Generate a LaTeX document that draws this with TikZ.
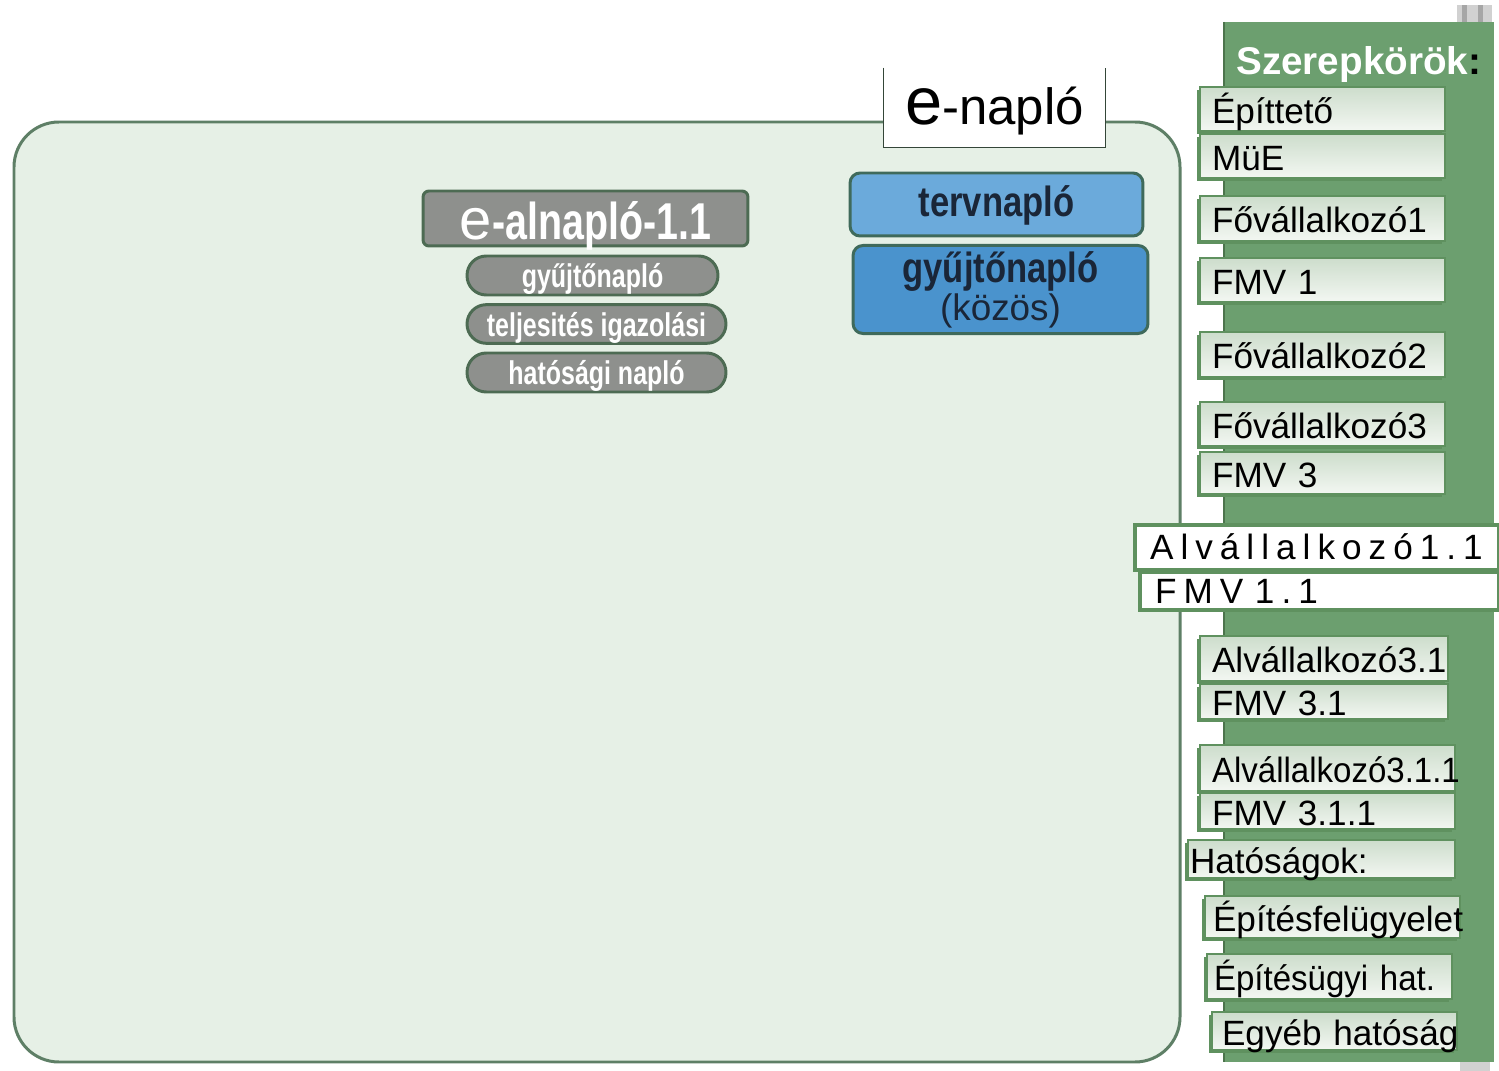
\documentclass[tikz,border=0pt]{standalone}
\usepackage{fontspec}
\setmainfont{Liberation Sans}
\newfontfamily\narrowfont[FakeStretch=0.76]{Liberation Sans}
\newfontfamily\tightfont[FakeStretch=0.82]{Liberation Sans}
\newfontfamily\rolenarrow[FakeStretch=0.94]{Liberation Sans}
\newfontfamily\widefont[LetterSpace=20]{Liberation Sans}
\usetikzlibrary{positioning,fit,calc,shadows}

\definecolor{frameline}{HTML}{5E7F66}
\definecolor{framefill}{HTML}{E6F0E6}
\definecolor{panelgreen}{HTML}{6C9F6F}
\definecolor{rolerim}{HTML}{5F915F}
\definecolor{roletop}{HTML}{CDDDCC}
\definecolor{rolebot}{HTML}{F3F7F2}
\definecolor{pillgray}{HTML}{8E908D}
\definecolor{pillrim}{HTML}{4D6B53}
\definecolor{planblue}{HTML}{6BAADB}
\definecolor{commonblue}{HTML}{4A93CD}
\definecolor{bluerim}{HTML}{3F6A5B}
\definecolor{navy}{HTML}{1A2638}

\begin{document}
\begin{tikzpicture}[x=0.02cm, y=-0.02cm,
    role/.style={draw=rolerim, line width=0.8pt, top color=roletop, bottom color=rolebot,
      drop shadow={shadow xshift=-1.8pt, shadow yshift=-1.6pt, fill=rolerim, opacity=1},
      inner xsep=0.24cm, inner ysep=0pt, align=left, text height=16.4pt, text depth=0pt,
      font=\fontsize{20}{22}\selectfont},
    subrole/.style={draw=rolerim, line width=2pt, fill=white, inner xsep=0.3cm, inner ysep=0pt,
      align=left, text height=13.8pt, text depth=0pt, font=\widefont\fontsize{20}{22}\selectfont},
    pill/.style={draw=pillrim, line width=1.7pt, fill=pillgray, rounded corners=0.385cm, inner ysep=0pt,
      text=white, text height=18pt, text depth=4pt, font=\narrowfont\bfseries\fontsize{18.7}{20}\selectfont},
    bluebox/.style={draw=bluerim, line width=1.7pt, rounded corners=0.2cm, text=navy,
      align=center, font=\tightfont\bfseries\fontsize{24}{21.5}\selectfont}]

  \useasboundingbox (0,0) rectangle (1499,1071);
  \fill[white] (0,0) rectangle (1499,1071);

  % main frame
  \draw[frameline, fill=framefill, line width=1.7pt, rounded corners=0.9cm] (14,122) rectangle (1180,1062);

  \node[fill=white, minimum width=4.42cm, minimum height=1.58cm, inner sep=0pt] (enaplo) at (994.5,107.5)
      {\raisebox{-0.35cm}[0pt][0pt]{{\fontsize{38}{38}\selectfont e}{\fontsize{29}{29}\selectfont -napló}}};
  \draw[black!45!frameline, line width=0.8pt] (enaplo.north west) |- (enaplo.south east) -- (enaplo.north east);

  % sub-diary
  \node[draw=pillrim, line width=1.7pt, fill=pillgray, rounded corners=0.12cm, text=white,
      minimum width=6.5cm, minimum height=1.1cm, inner sep=0pt] (alnaplo) at (585.5,218.5)
      {\raisebox{-0.43cm}[0pt][0pt]{{\fontsize{33}{33}\selectfont e}{\narrowfont\bfseries\fontsize{29.5}{30}\selectfont -alnapló-1.1}}};
  \node[pill, minimum width=5.02cm, minimum height=0.78cm] (gyujto) at (592.5,275.5) {gyűjtőnapló};
  \node[pill, minimum width=5.18cm, minimum height=0.76cm] (teljes) at (596.5,324) {teljesités igazolási};
  \node[pill, minimum width=5.18cm, minimum height=0.78cm] (hatnaplo) at (596.5,372.5) {hatósági napló};

  % common diaries
  \node[bluebox, fill=planblue, minimum width=5.86cm, minimum height=1.26cm, text height=18pt, text depth=4pt]
      (terv) at (996.5,204.5) {tervnapló};
  \node[bluebox, fill=commonblue, minimum width=5.9cm, minimum height=1.62cm] (kozos) at (1000.5,289.5)
      {gyűjtőnapló\\{\rmfamily\mdseries\fontsize{21}{21.5}\selectfont (közös)}};

  % roles
  \fill[panelgreen] (1224,22) rectangle (1494,1062);
  \draw[rolerim!80!black, line width=1pt] (1224,22) -- (1224,1062);
  \fill[black!18] (1457,5) rectangle (1492,22);
  \fill[black!35] (1462,5) rectangle (1467,22);
  \fill[black!35] (1478,5) rectangle (1483,22);
  \fill[black!18] (1460,1062) rectangle (1490,1071);

  \node[anchor=base west, inner sep=0pt, font=\bfseries\fontsize{22}{22}\selectfont] (szerep) at (1236,75)
      {\textcolor{white}{Szerepkörök}:};

  \node[role, text width=4.42cm, minimum height=0.88cm] (epitteto) at (1322.5,109) {Építtető};
  \node[role, text width=4.42cm, minimum height=0.88cm] (mue) at (1322.5,156) {MüE};
  \node[role, text width=4.42cm, minimum height=0.9cm] (fov1) at (1322.5,218.5) {Fővállalkozó1};
  \node[role, text width=4.42cm, minimum height=0.88cm] (fmv1) at (1322.5,280) {FMV 1};
  \node[role, text width=4.42cm, minimum height=0.9cm] (fov2) at (1322.5,354.5) {Fővállalkozó2};
  \node[role, text width=4.42cm, minimum height=0.88cm] (fov3) at (1322.5,424) {Fővállalkozó3};
  \node[role, text width=4.42cm, minimum height=0.84cm] (fmv3) at (1322.5,473) {FMV 3};

  \node[subrole, text width=6.68cm, minimum height=0.9cm] (alv11) at (1317,547.5) {Alvállalkozó1.1};
  \node[subrole, text width=6.58cm, minimum height=0.76cm] (fmv11) at (1319.5,591) {FMV 1.1};

  \node[role, text width=4.48cm, minimum height=0.9cm] (alv31) at (1324,658.5) {Alvállalkozó3.1};
  \node[role, text width=4.48cm, minimum height=0.7cm] (fmv31) at (1324,701.5) {FMV 3.1};
  \node[role, text width=4.62cm, minimum height=0.92cm] (alv311) at (1327.5,768) {\rolenarrow\mbox{Alvállalkozó3.1.1}};
  \node[role, text width=4.62cm, minimum height=0.72cm] (fmv311) at (1327.5,811) {FMV 3.1.1};

  \node[role, inner xsep=0.04cm, text width=5.26cm, minimum height=0.76cm] (hatosagok) at (1321.5,859) {Hatóságok:};
  \node[role, inner xsep=0.16cm, text width=4.78cm, minimum height=0.84cm] (epfel) at (1332.5,917) {\mbox{Építésfelügyelet}};
  \node[role, inner xsep=0.14cm, text width=4.62cm, minimum height=0.9cm] (epugy) at (1329.5,976.5) {\rolenarrow\mbox{Építésügyi hat.}};
  \node[role, inner xsep=0.2cm, text width=4.5cm, minimum height=0.76cm] (egyeb) at (1334.5,1031) {\mbox{Egyéb hatóság}};
\end{tikzpicture}
\end{document}
